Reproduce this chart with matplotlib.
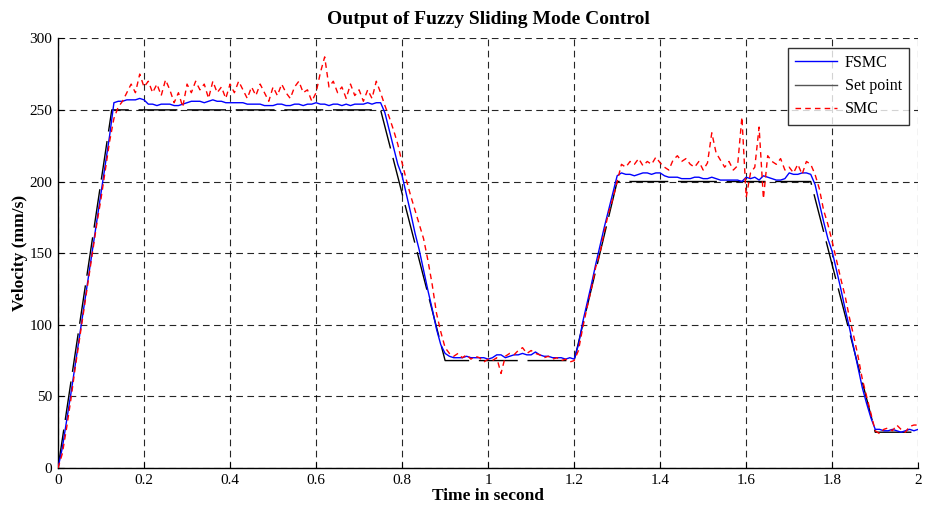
import numpy as np
import matplotlib
matplotlib.use("Agg")
import matplotlib.pyplot as plt
from matplotlib.lines import Line2D

# time base of the sampled responses (s)
t_start, t_end, t_step = 0.0, 2.0, 0.01

# set point breakpoints
sp_time = [0.0, 0.125, 0.75, 0.90, 1.20, 1.30, 1.75, 1.90, 2.00]
sp_value = [0, 250, 250, 75, 75, 200, 200, 25, 25]

# FSMC output, one value per 0.01 s
fsmc = [
    0, 14, 33, 52, 72, 92, 112, 132, 152, 172,
    192, 212, 232, 255, 256, 256, 257, 257, 257, 258,
    257, 254, 254, 253, 254, 254, 254, 253, 253, 254,
    255, 256, 256, 256, 255, 256, 257, 256, 256, 255,
    255, 255, 255, 255, 254, 254, 254, 254, 253, 253,
    253, 254, 254, 253, 253, 254, 254, 253, 254, 254,
    255, 254, 254, 253, 254, 254, 253, 254, 253, 254,
    254, 254, 255, 254, 255, 255, 248, 236, 224, 212,
    204, 191, 178, 164, 152, 138, 124, 111, 97, 86,
    80, 78, 77, 77, 77, 78, 77, 77, 77, 77,
    76, 77, 79, 79, 77, 78, 79, 79, 80, 79,
    79, 81, 79, 78, 78, 77, 77, 77, 76, 77,
    76, 86, 102, 115, 128, 142, 155, 168, 180, 192,
    204, 206, 205, 205, 204, 205, 206, 206, 205, 206,
    206, 204, 203, 203, 203, 202, 202, 202, 203, 203,
    202, 202, 203, 202, 201, 201, 201, 201, 201, 200,
    203, 202, 203, 201, 204, 203, 202, 201, 201, 202,
    206, 205, 205, 206, 206, 205, 198, 185, 172, 160,
    151, 138, 125, 111, 98, 84, 70, 56, 45, 35,
    27, 27, 26, 26, 27, 26, 25, 26, 27, 26,
    27,
]

# SMC output, one value per 0.01 s
smc = [
    0, 10, 28, 48, 70, 90, 110, 130, 150, 170,
    188, 208, 228, 244, 252, 256, 262, 268, 262, 275,
    266, 270, 262, 268, 260, 271, 264, 255, 262, 252,
    268, 262, 270, 264, 268, 258, 270, 262, 266, 258,
    268, 262, 270, 264, 258, 266, 260, 268, 262, 256,
    266, 260, 268, 262, 258, 266, 270, 262, 264, 256,
    262, 276, 287, 266, 270, 262, 266, 258, 268, 260,
    264, 256, 264, 258, 270, 262, 253, 245, 236, 226,
    213, 201, 190, 180, 170, 160, 145, 128, 108, 95,
    84, 80, 78, 80, 77, 79, 76, 78, 77, 74,
    76, 75, 77, 66, 78, 80, 79, 82, 84, 80,
    82, 80, 79, 77, 78, 76, 77, 75, 76, 74,
    75, 82, 98, 112, 125, 140, 150, 165, 178, 188,
    200, 212, 210, 214, 212, 216, 211, 214, 212, 217,
    213, 210, 208, 215, 218, 214, 216, 212, 210, 214,
    208, 213, 234, 220, 215, 210, 214, 208, 211, 245,
    189, 206, 210, 238, 188, 218, 214, 212, 216, 208,
    210, 206, 212, 205, 214, 212, 205, 195, 180, 170,
    158, 145, 132, 120, 105, 92, 78, 62, 50, 38,
    26, 24, 27, 28, 26, 30, 27, 25, 29, 30,
    30,
]

t = np.linspace(t_start, t_end, len(fsmc))

plt.rcParams["font.family"] = ["Liberation Serif", "DejaVu Serif"]

fig = plt.figure(figsize=(9.31, 5.08), dpi=100)
ax = fig.add_axes([0.0623, 0.0787, 0.924, 0.846])

ax.plot(t, fsmc, color="#0000ff", linewidth=1.0, zorder=4)
ax.plot(sp_time, sp_value, color="black", linewidth=1.0,
        linestyle=(0, (28, 7)), zorder=3)
ax.plot(t, smc, color="#ff0000", linewidth=1.0,
        linestyle=(0, (4, 3)), zorder=5)

ax.set_xlim(0, 2)
ax.set_ylim(0, 300)
ax.set_xticks(np.arange(0, 2.01, 0.2))
ax.set_xticklabels(["0", "0.2", "0.4", "0.6", "0.8", "1", "1.2", "1.4", "1.6", "1.8", "2"])
ax.set_yticks(np.arange(0, 301, 50))

ax.grid(True, color="black", linestyle=(0, (6, 4)), linewidth=0.8, alpha=0.85)
for side in ["top", "right"]:
    ax.spines[side].set_visible(False)
for side in ["left", "bottom"]:
    ax.spines[side].set_linewidth(1.0)
ax.tick_params(direction="in", length=4, labelsize=11, pad=4)

ax.set_title("Output of Fuzzy Sliding Mode Control", fontsize=14,
             fontweight="bold", pad=10)
ax.set_xlabel("Time in second", fontsize=12.5, fontweight="bold", labelpad=1)
ax.set_ylabel("Velocity (mm/s)", fontsize=12.5, fontweight="bold")
ax.yaxis.set_label_coords(-0.035, 0.5)

handles = [
    Line2D([], [], color="#0000ff", linewidth=1.0),
    Line2D([], [], color="#555555", linewidth=1.0),
    Line2D([], [], color="#ff0000", linewidth=1.0, linestyle=(0, (4, 3))),
]
leg = ax.legend(handles, ["FSMC", "Set point", "SMC"], loc="upper right",
                bbox_to_anchor=(0.993, 0.985), fontsize=11.5, frameon=True,
                fancybox=False, handlelength=2.6, borderpad=0.45,
                labelspacing=0.45, handletextpad=0.5, borderaxespad=0.2)
leg.get_frame().set_edgecolor("black")
leg.get_frame().set_linewidth(1.0)

fig.savefig("out.png", dpi=100)
